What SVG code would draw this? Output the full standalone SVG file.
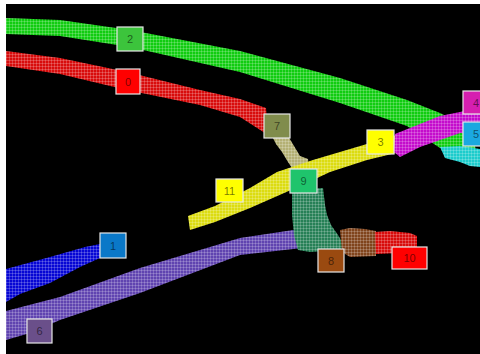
<svg xmlns="http://www.w3.org/2000/svg" width="480" height="354" viewBox="0 0 480 354">
<defs>
<pattern id="grid" width="3" height="3" patternUnits="userSpaceOnUse">
<path d="M0 0.5H3M0.5 0V3" stroke="#fff" stroke-width="1" stroke-opacity="0.2" fill="none"/>
</pattern>
<path id="b2" d="M6 18 L60 20 L130 30 L240 51 L340 78 L407 100 L440 113 L470 128 L476 150 L440 148 L407 126 L340 103 L240 72 L130 47 L60 36 L6 34 Z"/>
<path id="b0" d="M6 51 L60 58 L127 72 L200 90 L240 99 L266 108 L268 135 L240 117 L200 105 L127 90 L60 74 L6 66 Z"/>
<path id="b7" d="M272 136 L288 136 L294 146 L300 156 L308 159 L309 171 L294 171 L288 162 L282 152 L276 144 Z"/>
<path id="b5" d="M440 147 L460 146 L480 149 L480 167 L470 166 L460 162 L445 158 Z"/>
<path id="b3" d="M188 216 L215 206 L250 188 L277 172 L313 160 L367 144 L400 134 L400 152 L367 160 L330 172 L300 186 L250 208 L215 222 L190 230 Z"/>
<path id="b4" d="M395 134 L420 124 L440 116 L460 112 L480 108 L480 134 L460 133 L440 140 L420 147 L400 157 L394 152 Z"/>
<path id="b1" d="M6 269 L50 257 L85 247 L100 244 L100 258 L80 267 L50 283 L20 294 L6 302 Z"/>
<path id="b6" d="M6 311 L60 297 L140 268 L240 238 L300 229 L302 248 L240 255 L140 293 L60 320 L30 333 L6 340 Z"/>
<path id="b9" d="M292 190 L323 188 L325 205 L327 215 L331 225 L338 235 L344 245 L340 250 L310 252 L298 250 L294 235 L292 215 Z"/>
<path id="b8" d="M340 230 L350 228 L365 229 L376 231 L376 256 L350 257 L342 252 Z"/>
<path id="b10" d="M375 232 L390 231 L410 233 L417 236 L417 250 L400 253 L376 254 Z"/>
<style>
.lbl rect{stroke:#e6e6e6;stroke-width:1.2}
.lbl text{font-family:"Liberation Sans","DejaVu Sans",sans-serif;font-size:11px;fill:#000;fill-opacity:0.55;text-anchor:middle;dominant-baseline:central}
.g{fill:url(#grid)}
</style>
</defs>
<rect x="0" y="0" width="480" height="354" fill="#fff"/>
<rect x="6" y="4" width="474" height="350" fill="#000"/>
<g id="bands">
<use href="#b2" fill="#10cc10"/><use href="#b2" class="g"/>
<use href="#b0" fill="#d80c0c"/><use href="#b0" class="g"/>
<use href="#b7" fill="#b4b074"/><use href="#b7" class="g"/>
<use href="#b5" fill="#1ccccc"/><use href="#b5" class="g"/>
<use href="#b3" fill="#dcdc10"/><use href="#b3" class="g"/>
<use href="#b4" fill="#c40ccc"/><use href="#b4" class="g"/>
<use href="#b1" fill="#0606d4"/><use href="#b1" class="g"/>
<use href="#b6" fill="#6044b0"/><use href="#b6" class="g"/>
<use href="#b9" fill="#268056"/><use href="#b9" class="g"/>
<use href="#b8" fill="#80441c"/><use href="#b8" class="g"/>
<use href="#b10" fill="#d80c0c"/><use href="#b10" class="g"/>
</g>
<g id="n2" class="lbl"><rect x="117" y="27" width="26" height="24" fill="#3cc43c"/><text x="130" y="39">2</text></g>
<g id="n0" class="lbl"><rect x="116" y="69" width="24" height="25" fill="#ff0000"/><text x="128" y="81.5">0</text></g>
<g id="n7" class="lbl"><rect x="264" y="114" width="26" height="24" fill="#808c4c"/><text x="277" y="126">7</text></g>
<g id="n3" class="lbl"><rect x="367" y="130" width="27" height="24" fill="#ffff00"/><text x="380.5" y="142">3</text></g>
<g id="n4" class="lbl"><rect x="463" y="91" width="26" height="23" fill="#d61fb0"/><text x="476" y="102.5">4</text></g>
<g id="n5" class="lbl"><rect x="463" y="122" width="26" height="24" fill="#1ba8e0"/><text x="476" y="134">5</text></g>
<g id="n9" class="lbl"><rect x="290" y="169" width="27" height="24" fill="#1fc46c"/><text x="303.5" y="181">9</text></g>
<g id="n11" class="lbl"><rect x="216" y="179" width="27" height="23" fill="#ffff00"/><text x="229.5" y="190.5">11</text></g>
<g id="n1" class="lbl"><rect x="100" y="233" width="26" height="25" fill="#0a78c8"/><text x="113" y="245.5">1</text></g>
<g id="n8" class="lbl"><rect x="318" y="249" width="26" height="23" fill="#9a4a10"/><text x="331" y="260.5">8</text></g>
<g id="n10" class="lbl"><rect x="392" y="247" width="35" height="22" fill="#ff0000"/><text x="409.5" y="258">10</text></g>
<g id="n6" class="lbl"><rect x="27" y="319" width="25" height="24" fill="#6a4f8a"/><text x="39.5" y="331">6</text></g>
</svg>
